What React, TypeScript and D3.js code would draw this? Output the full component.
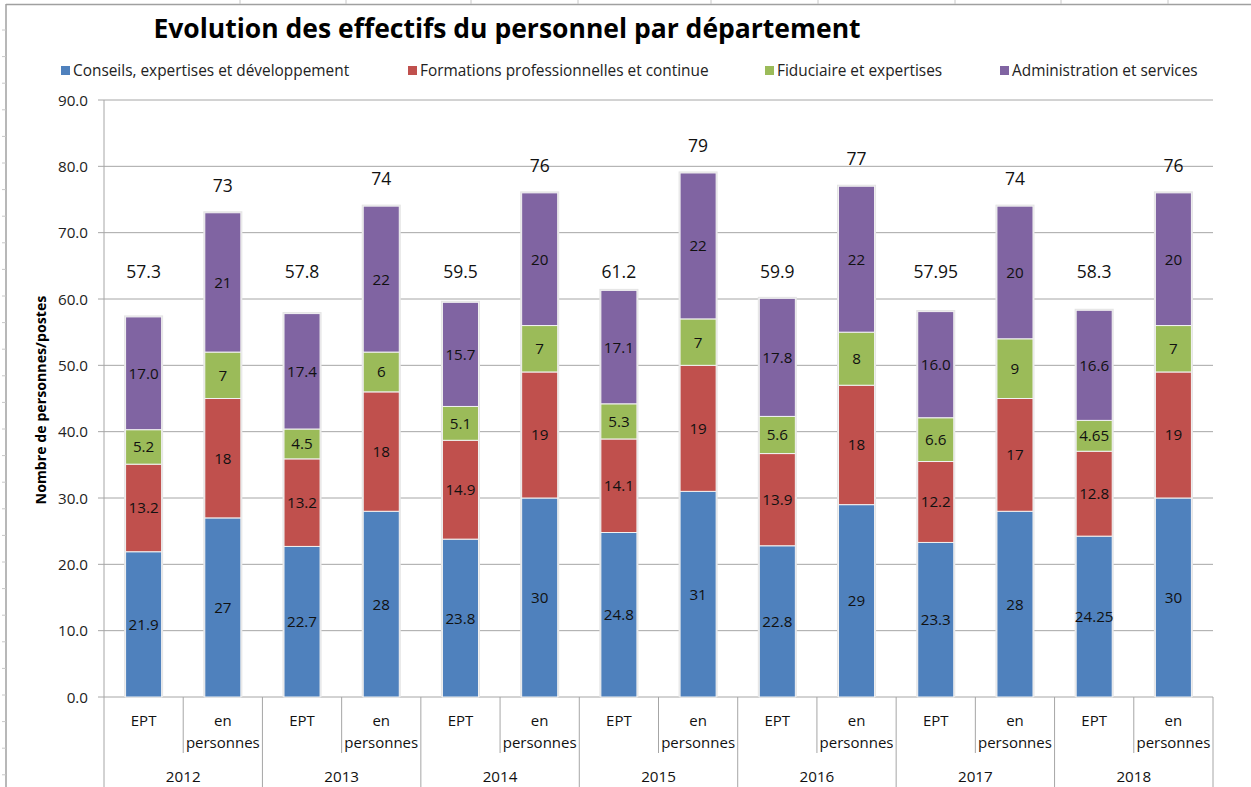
import React from "react";
import * as d3 from "d3";

const years = ["2012", "2013", "2014", "2015", "2016", "2017", "2018"];
const kinds = ["EPT", "en personnes"];
const seriesNames = [
  "Conseils, expertises et développement",
  "Formations professionnelles et continue",
  "Fiduciaire et expertises",
  "Administration et services",
];
const seriesColors = ["#4F81BD", "#C0504D", "#9BBB59", "#8064A2"];

// EPT values per year
const eptConseils = [21.9, 22.7, 23.8, 24.8, 22.8, 23.3, 24.25];
const eptFormations = [13.2, 13.2, 14.9, 14.1, 13.9, 12.2, 12.8];
const eptFiduciaire = [5.2, 4.5, 5.1, 5.3, 5.6, 6.6, 4.65];
const eptAdmin = [17.0, 17.4, 15.7, 17.1, 17.8, 16.0, 16.6];
const eptTotals = [57.3, 57.8, 59.5, 61.2, 59.9, 57.95, 58.3];
// label strings (as displayed)
const eptConseilsLbl = ["21.9", "22.7", "23.8", "24.8", "22.8", "23.3", "24.25"];
const eptFormationsLbl = ["13.2", "13.2", "14.9", "14.1", "13.9", "12.2", "12.8"];
const eptFiduciaireLbl = ["5.2", "4.5", "5.1", "5.3", "5.6", "6.6", "4.65"];
const eptAdminLbl = ["17.0", "17.4", "15.7", "17.1", "17.8", "16.0", "16.6"];
const eptTotalsLbl = ["57.3", "57.8", "59.5", "61.2", "59.9", "57.95", "58.3"];

// person counts per year
const persConseils = [27, 28, 30, 31, 29, 28, 30];
const persFormations = [18, 18, 19, 19, 18, 17, 19];
const persFiduciaire = [7, 6, 7, 7, 8, 9, 7];
const persAdmin = [21, 22, 20, 22, 22, 20, 20];
const persTotals = [73, 74, 76, 79, 77, 74, 76];

const yTicks = [0, 10, 20, 30, 40, 50, 60, 70, 80, 90];

type Row = { key: string; year: string; kind: string; vals: number[]; lbls: string[]; total: number; totalLbl: string };

const rows: Row[] = [];
years.forEach((y, i) => {
  rows.push({
    key: y + "-EPT", year: y, kind: kinds[0],
    vals: [eptConseils[i], eptFormations[i], eptFiduciaire[i], eptAdmin[i]],
    lbls: [eptConseilsLbl[i], eptFormationsLbl[i], eptFiduciaireLbl[i], eptAdminLbl[i]],
    total: eptTotals[i], totalLbl: eptTotalsLbl[i],
  });
  rows.push({
    key: y + "-P", year: y, kind: kinds[1],
    vals: [persConseils[i], persFormations[i], persFiduciaire[i], persAdmin[i]],
    lbls: [persConseils[i], persFormations[i], persFiduciaire[i], persAdmin[i]].map(String),
    total: persTotals[i], totalLbl: String(persTotals[i]),
  });
});

const W = 1251;
const H = 787;
const left = 104;
const right = 1213;
const top = 100;
const bottom = 697;
const FONT = "'Open Sans', 'Noto Sans', sans-serif";

export default function App() {
  const x = d3
    .scaleBand<string>()
    .domain(rows.map((r) => r.key))
    .range([left, right])
    .paddingInner(0.545)
    .paddingOuter(0.2725);
  const y = d3.scaleLinear().domain([0, 90]).range([bottom, top]);
  const step = x.step();
  const bw = x.bandwidth();

  const stack = d3
    .stack<Row, number>()
    .keys([0, 1, 2, 3])
    .value((d, k) => d.vals[k]);
  const stacked = stack(rows);

  const legendX = [61, 408, 765, 1000];
  const topTicks = [240, 346, 471, 578, 711, 818, 955, 1061, 1168];
  const leftTicks = d3.range(30, H, 26.6);

  return (
    <svg width={W} height={H} style={{ position: "absolute", left: 0, top: 0, background: "#fff" }} fontFamily={FONT}>
      {/* sheet border */}
      <line x1={6} x2={W} y1={4.5} y2={4.5} stroke="#a0a0a0" strokeWidth={1.5} />
      <line x1={6} x2={6} y1={4} y2={H} stroke="#a0a0a0" strokeWidth={1.5} />
      {topTicks.map((t) => (
        <line key={"tt" + t} x1={t} x2={t} y1={0} y2={4} stroke="#c8c8c8" />
      ))}
      {leftTicks.map((t) => (
        <line key={"lt" + t} x1={2} x2={6} y1={t} y2={t} stroke="#c8c8c8" />
      ))}

      {/* title */}
      <text x={507} y={38} textAnchor="middle" fontSize={26.5} fontWeight="bold" fill="#000">
        Evolution des effectifs du personnel par département
      </text>

      {/* legend */}
      {seriesNames.map((n, i) => (
        <g key={n}>
          <rect x={legendX[i]} y={66} width={9} height={9} fill={seriesColors[i]} />
          <text x={legendX[i] + 12} y={76} fontSize={15.4} fill="#222">
            {n}
          </text>
        </g>
      ))}

      {/* grid */}
      {yTicks.map((t) => (
        <g key={"g" + t}>
          <line x1={left - 6} x2={right} y1={y(t)} y2={y(t)} stroke="#a6a6a6" strokeWidth={1} />
          <text x={88} y={y(t) + 5.5} textAnchor="end" fontSize={15.2} fill="#222">
            {t.toFixed(1)}
          </text>
        </g>
      ))}
      <line x1={left} x2={left} y1={top} y2={bottom} stroke="#a6a6a6" />

      {/* y axis title */}
      <text
        transform={`translate(46,400) rotate(-90)`}
        textAnchor="middle"
        fontSize={14.2}
        fontWeight="bold"
        fill="#000"
      >
        Nombre de personnes/postes
      </text>

      {/* bars */}
      {rows.map((r, ri) => {
        const bx = x(r.key)!;
        const topVal = stacked[3][ri][1];
        return (
          <g key={r.key}>
            <rect
              x={bx - 1.5}
              y={y(topVal) - 1.5}
              width={bw + 3}
              height={y(0) - y(topVal) + 1.5}
              fill="#e4e4e4"
            />
            {stacked.map((s, si) => {
              const d = s[ri];
              return (
                <rect
                  key={si}
                  x={bx}
                  y={y(d[1])}
                  width={bw}
                  height={y(d[0]) - y(d[1])}
                  fill={seriesColors[si]}
                  stroke="#f2f2f2"
                  strokeWidth={1}
                />
              );
            })}
            {stacked.map((s, si) => {
              const d = s[ri];
              return (
                <text
                  key={"l" + si}
                  x={bx + bw / 2}
                  y={(y(d[0]) + y(d[1])) / 2 + 5.5}
                  textAnchor="middle"
                  fontSize={15.2}
                  fill="#111"
                >
                  {r.lbls[si]}
                </text>
              );
            })}
            <text
              x={bx + bw / 2}
              y={r.kind === "EPT" ? y(64.2) + 6.5 : y(r.total) - 21}
              textAnchor="middle"
              fontSize={17.5}
              fill="#111"
            >
              {r.totalLbl}
            </text>
          </g>
        );
      })}

      {/* category axis */}
      {rows.map((r, ri) => {
        const bx = x(r.key)! - (step - bw) / 2;
        const cx = bx + step / 2;
        const isYearStart = r.kind === "EPT";
        return (
          <g key={"c" + r.key}>
            <line x1={bx} x2={bx} y1={bottom} y2={isYearStart ? H : 753} stroke="#a6a6a6" />
            {r.kind === "EPT" ? (
              <text x={cx} y={726} textAnchor="middle" fontSize={15} fill="#111">
                EPT
              </text>
            ) : (
              <g>
                <text x={cx} y={726} textAnchor="middle" fontSize={15} fill="#111">
                  en
                </text>
                <text x={cx} y={748} textAnchor="middle" fontSize={15} fill="#111">
                  personnes
                </text>
              </g>
            )}
          </g>
        );
      })}
      <line x1={right} x2={right} y1={bottom} y2={H} stroke="#a6a6a6" />
      {years.map((yr) => {
        const x0 = x(yr + "-EPT")! - (step - bw) / 2;
        return (
          <text key={"y" + yr} x={x0 + step} y={782} textAnchor="middle" fontSize={15.2} fill="#111">
            {yr}
          </text>
        );
      })}
    </svg>
  );
}
